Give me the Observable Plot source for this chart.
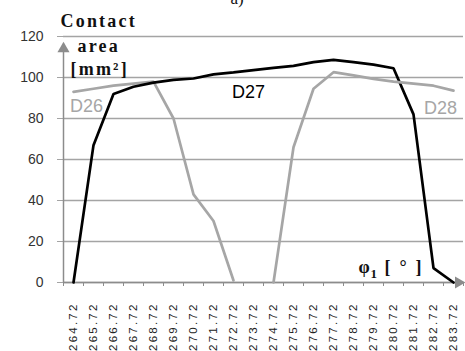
<!DOCTYPE html>
<html><head><meta charset="utf-8">
<script src="https://cdn.jsdelivr.net/npm/d3@7"></script>
<script src="https://cdn.jsdelivr.net/npm/@observablehq/plot@0.6"></script>
<style>
body{margin:0;background:#fff}
g[aria-label="x-axis tick label"] text{letter-spacing:2.2px}
.ttl text{letter-spacing:2.2px}
</style></head><body><div id="chart"></div>
<script>
const angles = ["264.72","265.72","266.72","267.72","268.72","269.72","270.72","271.72","272.72","273.72",
  "274.72","275.72","276.72","277.72","278.72","279.72","280.72","281.72","282.72","283.72"];
const d26 = [93, 94.5, 96, 97, 98, 80, 43, 30, 1, null, null, null, null, null, null, null, null, null, null, null];
const d27 = [0, 67, 92, 95.5, 97.5, 98.8, 99.5, 101.5, 102.5, 103.6, 104.7, 105.7, 107.5, 108.6, 107.5, 106.3, 104.5, 82, 7, 0];
const d28 = [null, null, null, null, null, null, null, null, null, null, 0, 66, 94.5, 102.6, 101, 99.3, 98, 97, 96, 93.6];
const seriesNames = ["D26", "D27", "D28"];
const seriesColors = ["#a6a6a6", "#000000", "#a6a6a6"];
const labelX = [0.65, 8.75, 18.35];
const labelY = [86, 93, 85];
const yTicks = [0, 20, 40, 60, 80, 100, 120];

const idx = d3.range(angles.length);
const bounds = d3.range(angles.length + 1).map(i => i - 0.5);
const rows = [];
[d26, d27, d28].forEach((arr, s) => arr.forEach((v, i) => { if (v != null) rows.push({s: seriesNames[s], i, v}); }));

const serif = "'Liberation Serif', 'Times New Roman', serif";
const sans = "'Liberation Sans', Arial, sans-serif";

const chart = Plot.plot({
  width: 465, height: 351,
  marginLeft: 63, marginRight: 2, marginTop: 36, marginBottom: 69,
  style: {fontFamily: sans, background: "#fff"},
  x: {domain: [-0.5, 19.5], axis: null},
  y: {domain: [0, 120], axis: null},
  color: {domain: seriesNames, range: seriesColors},
  marks: [
    Plot.gridY(yTicks, {stroke: "#a4a4a4", strokeOpacity: 1, strokeWidth: 1.3}),
    Plot.axisY(yTicks, {anchor: "left", tickSize: 6, tickPadding: 14, stroke: "#a4a4a4", strokeOpacity: 1,
      fontSize: 14, fill: "#333", label: null}),
    Plot.ruleX([-0.5], {y1: 0, y2: 114, stroke: "#8c8c8c", strokeWidth: 1.5}),
    Plot.ruleY([0], {x1: -0.5, x2: 19.3, stroke: "#8c8c8c", strokeWidth: 1.5}),
    Plot.axisX(bounds, {anchor: "bottom", tickSize: 4, tickFormat: () => "", stroke: "#8c8c8c", label: null}),
    Plot.axisX(idx, {anchor: "bottom", tickSize: 0, tickPadding: 20, tickRotate: -90,
      tickFormat: i => angles[i], fontSize: 11.5, fill: "#222", label: null}),
    Plot.line(rows, {x: "i", y: "v", z: "s", stroke: "s", strokeWidth: 2.7, strokeLinejoin: "miter"}),
    Plot.dot([114], {x: -0.5, y: d => d, symbol: "triangle", r: 4.5, fill: "#8c8c8c", stroke: null}),
    Plot.dot([0], {x: 19.25, y: d => d, symbol: "triangle", r: 4.5, rotate: 90, fill: "#8c8c8c", stroke: null}),
    Plot.text(seriesNames, {x: (d, k) => labelX[k], y: (d, k) => labelY[k], text: d => d,
      fill: d => d === "D27" ? "#000" : "#a6a6a6", fontSize: 18}),
    Plot.text(["Contact"], {frameAnchor: "top-left", dx: -3, dy: -10, lineAnchor: "bottom", textAnchor: "start",
      fontFamily: serif, fontWeight: "bold", fontSize: 18, fill: "#111", className: "ttl"}),
    Plot.text(["area"], {frameAnchor: "top-left", dx: 14, dy: 15, lineAnchor: "bottom", textAnchor: "start",
      fontFamily: serif, fontWeight: "bold", fontSize: 18, fill: "#111", className: "ttl"}),
    Plot.text(["[mm²]"], {frameAnchor: "top-left", dx: 7, dy: 38, lineAnchor: "bottom", textAnchor: "start",
      fontFamily: serif, fontWeight: "bold", fontSize: 18, fill: "#111", className: "ttl"}),
    Plot.text(["a)"], {frameAnchor: "top-left", dx: 167, dy: -33, lineAnchor: "bottom", textAnchor: "start",
      fontFamily: serif, fontSize: 17, fill: "#111"}),
    Plot.text(["φ"], {frameAnchor: "bottom-left", dx: 295, dy: -10, lineAnchor: "bottom", textAnchor: "start",
      fontFamily: serif, fontWeight: "bold", fontSize: 18, fill: "#111"}),
    Plot.text(["1"], {frameAnchor: "bottom-left", dx: 307, dy: -5, lineAnchor: "bottom", textAnchor: "start",
      fontFamily: serif, fontWeight: "bold", fontSize: 13, fill: "#111"}),
    Plot.text(["[ ° ]"], {frameAnchor: "bottom-left", dx: 321, dy: -10, lineAnchor: "bottom", textAnchor: "start",
      fontFamily: serif, fontWeight: "bold", fontSize: 18, fill: "#111", className: "ttl"})
  ]
});
document.getElementById("chart").append(chart);
</script></body></html>
